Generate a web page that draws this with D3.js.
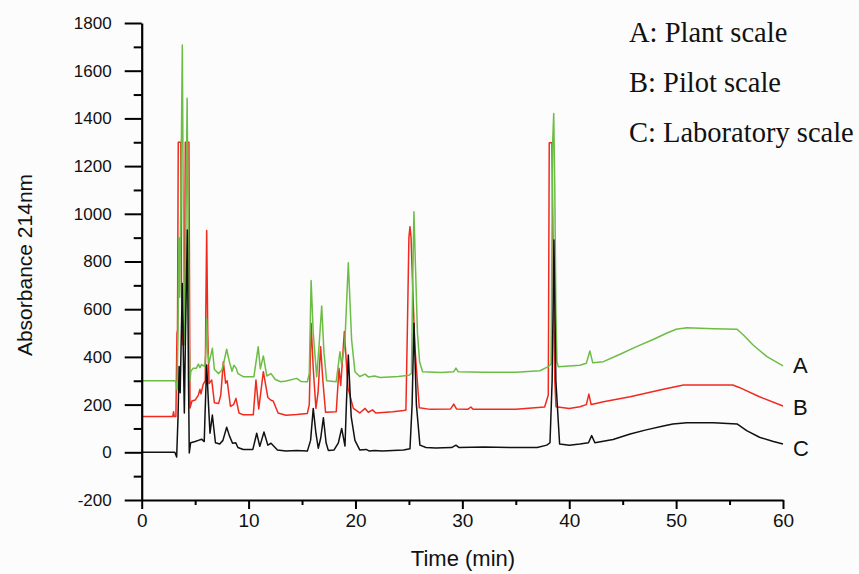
<!DOCTYPE html>
<html>
<head>
<meta charset="utf-8">
<script src="https://cdn.jsdelivr.net/npm/d3@7"></script>
<style>
  html, body { margin: 0; padding: 0; background: #fcfcfc; }
  svg { display: block; }
</style>
</head>
<body>
<div id="chart"></div>
<script>
// ---------- data ----------
const seriesNames = ["A", "B", "C"];
const legendLabels = ["A: Plant scale", "B: Pilot scale", "C: Laboratory scale"];
const xTicks = [0, 10, 20, 30, 40, 50, 60];
const yTicks = [-200, 0, 200, 400, 600, 800, 1000, 1200, 1400, 1600, 1800];
const xLabel = "Time (min)";
const yLabel = "Absorbance 214nm";

// A: Plant scale (green) [time, absorbance]
const seriesA = [[0,300],[3.1,300],[3.2,295],[3.3,262],[3.4,500],[3.48,900],[3.55,650],[3.65,1000],[3.8,1708],[3.88,1100],[3.95,700],[4.05,450],[4.15,1000],[4.25,1484],[4.35,900],[4.45,450],[4.52,300],[4.6,340],[4.8,352],[5.1,352],[5.3,370],[5.45,355],[5.6,368],[5.9,360],[6.0,420],[6.08,560],[6.18,420],[6.3,374],[6.61,436],[6.8,347],[7.2,330],[7.5,345],[7.7,380],[7.95,432],[8.2,380],[8.45,340],[8.63,365],[8.85,352],[9.0,330],[9.5,317],[10.5,317],[10.9,443],[11.1,350],[11.38,404],[11.7,320],[12.1,330],[12.5,305],[13.0,296],[13.5,299],[14.5,310],[14.9,297],[15.5,296],[15.68,330],[15.85,720],[16.05,500],[16.37,317],[16.6,450],[16.84,613],[17.05,420],[17.3,300],[18.2,296],[18.55,422],[18.7,370],[19.0,450],[19.33,795],[19.64,471],[19.95,338],[20.4,318],[20.9,328],[21.2,316],[21.8,320],[22.3,314],[24.0,318],[25.0,323],[25.24,331],[25.35,700],[25.47,1009],[25.6,800],[25.8,500],[26.0,380],[26.28,338],[28.0,335],[29.2,338],[29.4,353],[29.6,338],[32.0,336],[35.0,336],[37.26,342],[38.04,359],[38.3,370],[38.45,1300],[38.55,1421],[38.65,1100],[38.75,600],[38.85,380],[38.97,359],[40.0,362],[41.0,365],[41.6,373],[41.93,425],[42.2,375],[43.2,380],[44.7,410],[46.3,443],[47.9,474],[49.1,499],[50.0,516],[51.0,522],[53.5,518],[55.7,516],[56.3,492],[57.2,450],[58.5,401],[60.0,362]];

// B: Pilot scale (red)
const seriesB = [[0,150],[2.9,150],[2.98,170],[3.05,150],[3.2,150],[3.3,500],[3.35,513],[3.42,1300],[3.65,1300],[3.72,700],[3.85,450],[4.0,600],[4.08,1300],[4.42,1300],[4.5,400],[4.52,186],[4.7,215],[5.0,219],[5.3,240],[5.45,264],[5.55,245],[5.75,285],[5.95,300],[6.0,600],[6.08,930],[6.18,500],[6.3,288],[6.55,303],[6.8,208],[7.2,205],[7.4,240],[7.64,380],[7.85,290],[8.0,300],[8.3,193],[8.6,200],[8.82,226],[9.1,165],[9.5,157],[10.44,157],[10.69,303],[10.95,182],[11.38,338],[11.8,230],[12.1,218],[12.3,215],[12.76,165],[13.5,155],[14.5,158],[15.5,163],[15.68,200],[15.85,541],[16.05,350],[16.3,184],[16.5,250],[16.74,443],[16.95,300],[17.2,168],[18.2,170],[18.46,352],[18.62,280],[18.96,506],[19.3,270],[19.8,184],[20.4,165],[20.9,184],[21.2,168],[21.6,178],[21.9,165],[23.5,170],[24.5,175],[24.72,177],[24.85,500],[25.0,900],[25.1,946],[25.2,900],[25.35,700],[25.55,450],[25.78,303],[25.97,187],[27.0,180],[28.9,182],[29.2,202],[29.45,182],[30.5,180],[30.8,190],[31.0,180],[35.0,180],[37.7,190],[38.04,240],[38.13,1298],[38.38,1298],[38.5,800],[38.65,300],[38.76,191],[40.0,184],[41.0,191],[41.6,200],[41.84,244],[42.05,200],[42.5,205],[43.2,212],[45.7,233],[48.8,264],[50.7,282],[55.3,282],[55.9,272],[57.8,233],[60.0,194]];

// C: Laboratory scale (black)
const seriesC = [[0,0],[3.1,0],[3.27,-20],[3.4,150],[3.5,360],[3.6,250],[3.8,708],[3.9,400],[3.99,165],[4.1,500],[4.27,932],[4.38,300],[4.45,-3],[4.58,40],[5.0,45],[5.3,50],[5.6,55],[5.85,45],[5.92,150],[6.08,366],[6.25,200],[6.39,80],[6.61,156],[6.9,40],[7.3,35],[7.6,50],[7.95,105],[8.2,70],[8.5,38],[8.8,40],[9.0,20],[9.5,12],[10.4,12],[10.76,80],[11.05,25],[11.44,85],[11.8,30],[12.1,38],[12.7,10],[13.5,5],[14.5,8],[15.5,5],[15.8,50],[16.05,184],[16.3,80],[16.52,17],[16.75,60],[17.0,145],[17.25,40],[17.46,8],[18.0,10],[18.4,40],[18.71,100],[19.02,26],[19.15,200],[19.33,408],[19.6,150],[19.95,50],[20.4,10],[21.0,12],[21.3,5],[21.8,8],[22.5,5],[23.5,8],[24.5,10],[25.1,15],[25.3,200],[25.47,541],[25.7,200],[26.03,30],[26.6,20],[27.5,18],[29.0,20],[29.4,30],[29.7,20],[32,22],[35,20],[37.0,20],[37.9,30],[38.2,40],[38.4,300],[38.57,890],[38.75,300],[39.1,35],[40.0,30],[41.0,35],[41.8,40],[42.1,70],[42.4,40],[44.1,54],[45.7,77],[47.2,94],[48.8,110],[49.7,119],[51.0,124],[53.5,124],[55.7,119],[56.6,91],[57.8,63],[59.1,45],[60.0,35]];

const seriesColors = ["#6cbd45", "#f02a1e", "#111111"];

// ---------- drawing ----------
const W = 859, H = 574;
const svg = d3.select("#chart").append("svg").attr("width", W).attr("height", H);
svg.append("rect").attr("width", W).attr("height", H).attr("fill", "#fcfcfc");

const x = d3.scaleLinear().domain([0, 60]).range([141.7, 783]);
const y = d3.scaleLinear().domain([-200, 1800]).range([500, 23]);

const line = d3.line().x(d => x(d[0])).y(d => y(d[1]));

const drawOrder = [1, 0, 2];
const allSeries = [seriesA, seriesB, seriesC];
drawOrder.forEach(i => {
  svg.append("path")
    .datum(allSeries[i])
    .attr("fill", "none")
    .attr("stroke", seriesColors[i])
    .attr("stroke-width", 1.5)
    .attr("stroke-linejoin", "round")
    .attr("d", line);
});

// Axes
const fontAxis = "Arial, 'Liberation Sans', sans-serif";
const plainFmt = d => String(d);

// minor ticks x
svg.append("g").attr("transform", `translate(0,${y(-200)})`)
  .call(d3.axisBottom(x).tickValues(d3.range(5, 60, 10)).tickSize(5).tickSizeOuter(0).tickFormat(""))
  .call(g => g.select(".domain").remove())
  .call(g => g.selectAll("line").attr("stroke", "#000").attr("stroke-width", 2));

const gx = svg.append("g").attr("transform", `translate(0,${y(-200)})`)
  .call(d3.axisBottom(x).tickValues(xTicks).tickSize(9).tickSizeOuter(0).tickPadding(5).tickFormat(plainFmt));
gx.select(".domain").attr("stroke", "#000").attr("stroke-width", 2.2);
gx.selectAll(".tick line").attr("stroke", "#000").attr("stroke-width", 2);
gx.selectAll(".tick text").attr("font-family", fontAxis).attr("font-size", 19).attr("fill", "#111");

// minor ticks y
svg.append("g").attr("transform", `translate(${x(0)},0)`)
  .call(d3.axisLeft(y).tickValues(d3.range(-100, 1800, 200)).tickSize(8).tickSizeOuter(0).tickFormat(""))
  .call(g => g.select(".domain").remove())
  .call(g => g.selectAll("line").attr("stroke", "#000").attr("stroke-width", 2));

const gy = svg.append("g").attr("transform", `translate(${x(0)},0)`)
  .call(d3.axisLeft(y).tickValues(yTicks).tickSize(17).tickSizeOuter(0).tickPadding(13).tickFormat(plainFmt));
gy.select(".domain").attr("stroke", "#000").attr("stroke-width", 2.2);
gy.selectAll(".tick line").attr("stroke", "#000").attr("stroke-width", 2);
gy.selectAll(".tick text").attr("font-family", fontAxis).attr("font-size", 17).attr("fill", "#111");

// Axis titles
svg.append("text")
  .attr("x", 463).attr("y", 566)
  .attr("text-anchor", "middle")
  .attr("font-family", fontAxis).attr("font-size", 22).attr("fill", "#111")
  .text(xLabel);

svg.append("text")
  .attr("transform", "translate(32,265) rotate(-90)")
  .attr("text-anchor", "middle")
  .attr("font-family", fontAxis).attr("font-size", 21).attr("fill", "#111")
  .text(yLabel);

// Legend text (top right)
legendLabels.forEach((t, i) => {
  svg.append("text")
    .attr("x", 629).attr("y", 42 + i * 50)
    .attr("font-family", "'Liberation Serif', 'Times New Roman', serif")
    .attr("font-size", 28.5).attr("fill", "#111")
    .text(t);
});

// Series end labels
const endLabelY = [373, 415, 456];
seriesNames.forEach((n, i) => {
  svg.append("text")
    .attr("x", 793).attr("y", endLabelY[i])
    .attr("font-family", fontAxis).attr("font-size", 22).attr("fill", "#111")
    .text(n);
});
</script>
</body>
</html>
